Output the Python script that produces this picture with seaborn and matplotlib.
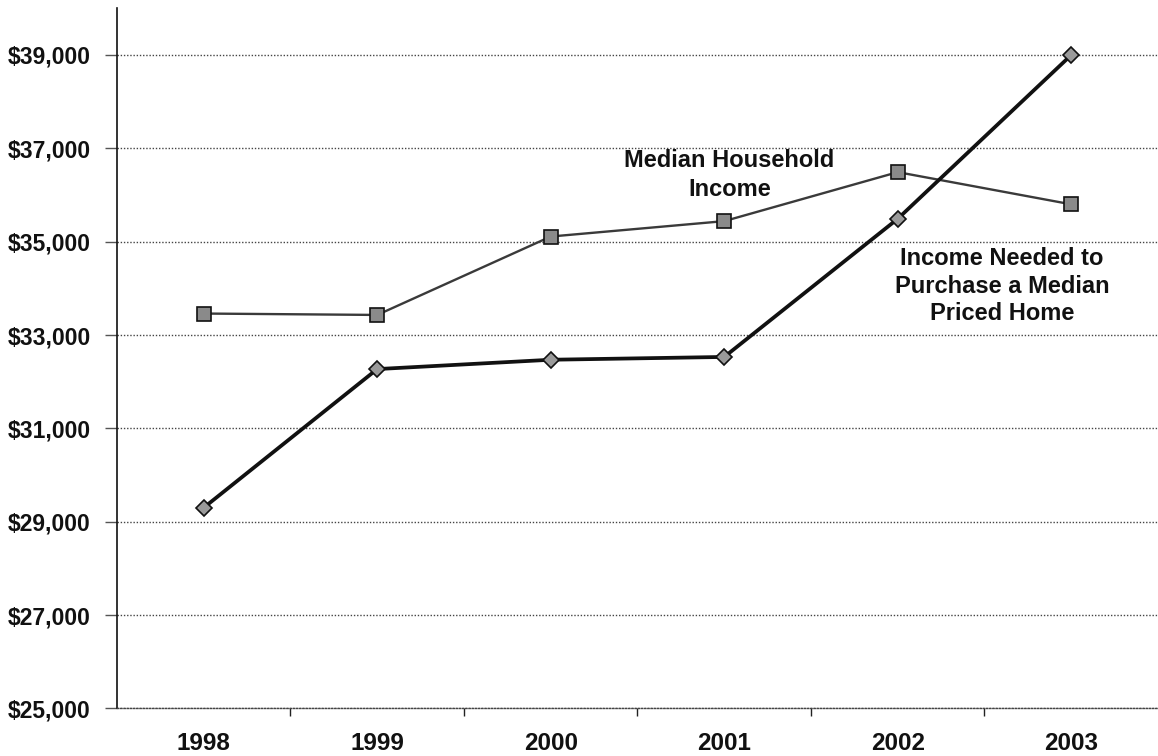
import matplotlib
matplotlib.use("Agg")
import matplotlib.pyplot as plt
from matplotlib.ticker import FixedLocator, FuncFormatter
import seaborn as sns
import pandas as pd

# Annual figures, 1998-2003
years = [1998, 1999, 2000, 2001, 2002, 2003]
median_household_income = [33460, 33430, 35110, 35440, 36490, 35800]
income_needed = [29300, 32270, 32470, 32530, 35490, 39000]
series_names = ["Median Household Income", "Income Needed to Purchase a Median Priced Home"]
y_ticks = [25000, 27000, 29000, 31000, 33000, 35000, 37000, 39000]

df = pd.DataFrame({
    "year": years * 2,
    "value": median_household_income + income_needed,
    "series": [series_names[0]] * len(years) + [series_names[1]] * len(years),
})

sns.set_theme(style="white")
plt.rcParams["font.family"] = ["Liberation Sans", "DejaVu Sans"]
plt.rcParams["font.weight"] = "bold"

fig = plt.figure(figsize=(11.58, 7.56), dpi=100)
ax = fig.add_axes([0.101, 0.063, 0.899, 0.926])

# dotted horizontal gridlines behind the data
for v in y_ticks:
    ax.axhline(v, color="#444444", lw=1.0, ls=(0, (1, 1.3)), zorder=0)

sns.lineplot(
    data=df, x="year", y="value", hue="series", style="series",
    palette={series_names[0]: "#3a3a3a", series_names[1]: "#111111"},
    markers={series_names[0]: "s", series_names[1]: "D"},
    dashes=False, legend=False, ax=ax, zorder=3,
)
lines = ax.get_lines()[-2:]

# style each series: thin grey income line, heavy black affordability line
for ln, lw, ms, fc in zip(lines, [1.7, 2.7], [10, 8], ["#8a8a8a", "#9a9a9a"]):
    ln.set_linewidth(lw)
    ln.set_markersize(ms)
    ln.set_markerfacecolor(fc)
    ln.set_markeredgecolor("#111111")
    ln.set_markeredgewidth(1.2)

ax.set_xlim(1997.5, 2003.5)
ax.set_ylim(25000, 40000)

ax.xaxis.set_major_locator(FixedLocator(years))
ax.xaxis.set_minor_locator(FixedLocator([y + 0.5 for y in years[:-1]]))
ax.yaxis.set_major_locator(FixedLocator(y_ticks))
ax.yaxis.set_major_formatter(FuncFormatter(lambda v, _: f"${v:,.0f}"))

ax.tick_params(axis="x", which="major", length=0, pad=17, labelsize=17.5)
ax.tick_params(axis="x", which="minor", length=6, width=1, color="#222222", direction="out", bottom=True)
ax.tick_params(axis="y", which="major", length=9, width=1, color="#555555", direction="out", pad=10, labelsize=16.5, left=True)
for lab in ax.get_xticklabels() + ax.get_yticklabels():
    lab.set_fontweight("bold")
    lab.set_color("#111111")

ax.set_xlabel("")
ax.set_ylabel("")

for side in ["top", "right"]:
    ax.spines[side].set_visible(False)
ax.spines["left"].set_color("#111111")
ax.spines["left"].set_linewidth(1.2)
ax.spines["bottom"].set_color("#444444")
ax.spines["bottom"].set_linewidth(1.0)
ax.spines["bottom"].set_linestyle((0, (1, 1.3)))

ax.text(2001.03, 36430, "Median Household\nIncome", ha="center", va="center",
        fontsize=17, fontweight="bold", color="#111111", linespacing=1.3, zorder=4)
ax.text(2002.6, 34040, "Income Needed to\nPurchase a Median\nPriced Home", ha="center", va="center",
        fontsize=17, fontweight="bold", color="#111111", linespacing=1.25, zorder=4)

fig.savefig("out.png", dpi=100)
